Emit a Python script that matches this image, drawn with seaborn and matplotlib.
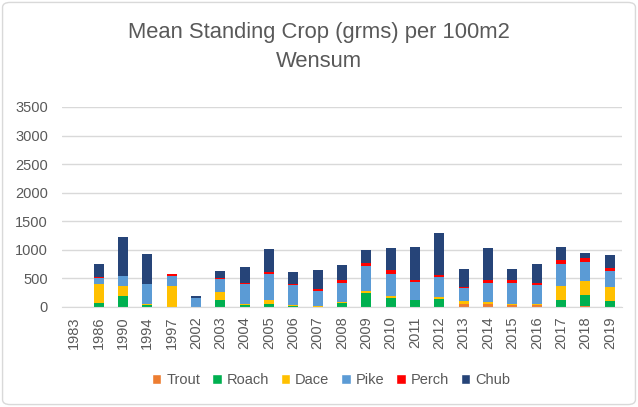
import matplotlib
matplotlib.use("Agg")
import matplotlib.pyplot as plt
from matplotlib.patches import FancyBboxPatch, Patch
import numpy as np
import pandas as pd
import seaborn as sns

years = ["1983", "1986", "1990", "1994", "1997", "2002", "2003", "2004", "2005",
         "2006", "2007", "2008", "2009", "2010", "2011", "2012", "2013", "2014",
         "2015", "2016", "2017", "2018", "2019"]
trout = [0, 5, 0, 0, 0, 0, 0, 0, 0, 0, 0, 0, 0, 0, 0, 0, 50, 50, 35, 35, 0, 25, 0]
roach = [0, 60, 196, 35, 0, 0, 130, 40, 60, 25, 0, 70, 241, 166, 114, 148, 0, 0, 0, 0, 114, 187, 108]
dace = [0, 340, 175, 25, 370, 0, 128, 10, 70, 15, 20, 15, 47, 29, 0, 35, 52, 41, 15, 17, 256, 245, 245]
pike = [0, 110, 175, 345, 180, 165, 233, 345, 455, 338, 262, 338, 425, 391, 327, 350, 233, 326, 367, 338, 391, 332, 285]
perch = [0, 5, 0, 0, 25, 0, 18, 30, 35, 23, 35, 42, 64, 64, 23, 35, 23, 47, 47, 29, 70, 70, 47]
chub = [0, 240, 675, 530, 10, 30, 128, 280, 397, 216, 332, 262, 222, 379, 583, 729, 309, 565, 203, 336, 222, 94, 227]

species = ["Trout", "Roach", "Dace", "Pike", "Perch", "Chub"]
colors = ["#ED7D31", "#00B050", "#FFC000", "#5B9BD5", "#FF0000", "#264478"]

df = pd.DataFrame({"Year": years, "Trout": trout, "Roach": roach, "Dace": dace,
                   "Pike": pike, "Perch": perch, "Chub": chub})
cum = df[species].cumsum(axis=1)

sns.set_style("white")
plt.rcParams["font.family"] = ["Liberation Sans", "DejaVu Sans"]

fig = plt.figure(figsize=(6.38, 4.07), dpi=100)
ax = fig.add_axes([62 / 638, 1 - 307 / 407, 560 / 638, 200 / 407])

# draw from the top of the stack down so each layer covers the ones above it
for sp, col in zip(reversed(species), reversed(colors)):
    sns.barplot(x=df["Year"], y=cum[sp], color=col, width=0.41, ax=ax,
                saturation=1, linewidth=0)

ax.set_ylim(0, 3500)
ax.set_yticks(range(0, 3501, 500))
ax.yaxis.grid(True, color="#D9D9D9", lw=1)
ax.set_axisbelow(True)
for s in ["top", "right", "left"]:
    ax.spines[s].set_visible(False)
ax.spines["bottom"].set_color("#D9D9D9")
ax.set_xlabel("")
ax.set_ylabel("")
ax.tick_params(axis="both", length=0, colors="#595959", labelsize=10.5)
ax.tick_params(axis="y", pad=10)
ax.tick_params(axis="x", pad=7)
plt.setp(ax.get_xticklabels(), rotation=90)

fig.text(0.5, 1 - 38 / 407, "Mean Standing Crop (grms) per 100m2", ha="center",
         va="baseline", fontsize=15.8, color="#595959")
fig.text(0.5, 1 - 67 / 407, "Wensum", ha="center", va="baseline",
         fontsize=15.8, color="#595959")

handles = [Patch(facecolor=c, label=s) for s, c in zip(species, colors)]
fig.legend(handles=handles, loc="center", bbox_to_anchor=(331 / 638, 1 - 380 / 407),
           ncol=6, frameon=False, fontsize=10.5, handlelength=0.65, handleheight=0.65,
           handletextpad=0.35, columnspacing=0.8, labelcolor="#595959")

border = FancyBboxPatch((0.004, 0.006), 0.992, 0.988, boxstyle="round,pad=0,rounding_size=0.012",
                        transform=fig.transFigure, fill=False, edgecolor="#D9D9D9", lw=1)
fig.patches.append(border)

fig.savefig("out.png", dpi=100)
